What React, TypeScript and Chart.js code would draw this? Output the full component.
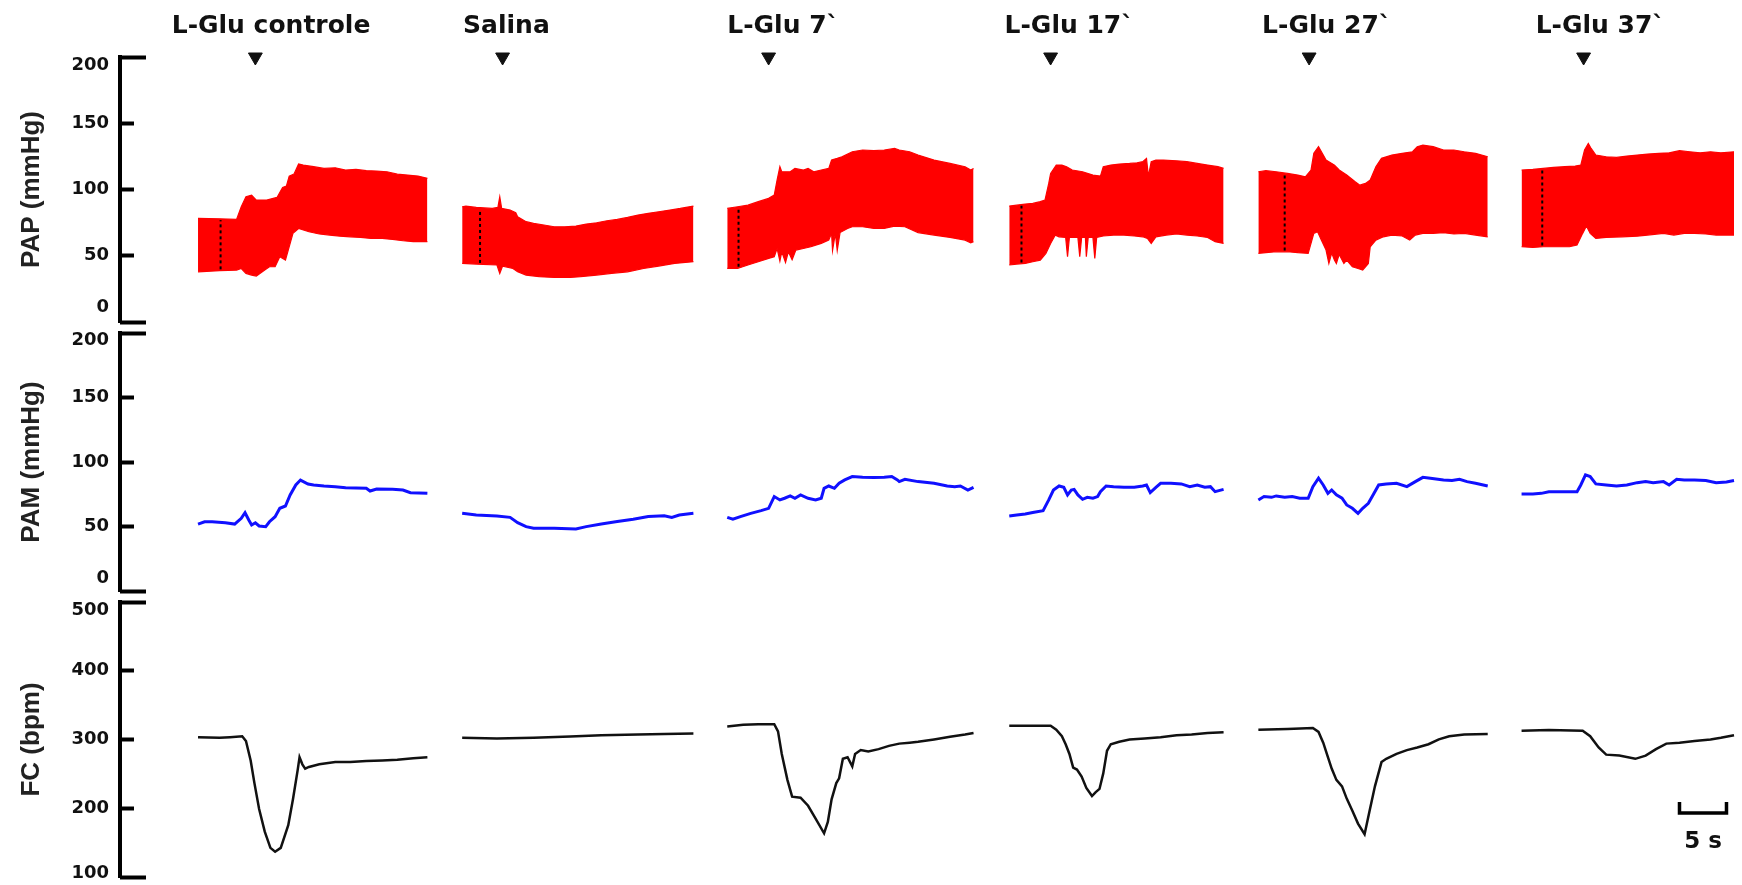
import { useEffect, useRef } from 'react';
import { Chart, registerables } from 'chart.js';

Chart.register(...registerables);

type Pt = [number, number]; // [seconds from segment start, value]

// ---- Recording segments -------------------------------------------------
const SEGMENTS = ['L-Glu controle', 'Salina', 'L-Glu 7`', 'L-Glu 17`', 'L-Glu 27`', 'L-Glu 37`'];
// start of each excerpt on the shared time axis (s)
const SEGMENT_START = [8.3, 36.4, 64.6, 94.6, 121.1, 149.1];
// microinjection time, seconds after the excerpt start
const INJECTION_AT = [6.1, 4.3, 4.4, 4.4, 5.4, 6.6];
// dotted calibration mark inside each pressure excerpt, seconds after start
const MARK_AT = [2.4, 1.9, 1.2, 1.3, 2.8, 2.2];

// ---- PAP: systolic (upper) and diastolic (lower) envelopes, mmHg --------
const PAP_SYS: Pt[][] = [
  [[0, 78.2], [2.3, 77.9], [4.1, 77.4], [4.6, 87], [5.1, 94.5], [5.7, 95.8], [6.2, 92], [7.3, 92], [8.4, 94], [9, 101.6], [9.4, 102.6], [9.7, 110.1], [10.2, 111.6], [10.7, 119.2], [11.2, 118.4], [12.3, 117.2], [13.4, 115.9], [14.6, 116.4], [15.7, 114.7], [16.8, 115.2], [17.9, 114.2], [19, 113.9], [20.1, 113.4], [21.2, 111.6], [22.3, 110.9], [23.4, 110.1], [24.4, 108.4]],
  [[0, 87], [0.4, 87.5], [1.5, 86.5], [3.2, 85.7], [3.8, 86.5], [4.0, 94.5], [4.2, 85.7], [5.1, 84.5], [5.7, 82.5], [5.9, 79.4], [6.8, 75.7], [7.6, 74.4], [8.7, 73.2], [9.8, 71.9], [10.9, 71.9], [12.1, 72.4], [13.2, 73.9], [14.3, 74.9], [15.4, 76.4], [16.5, 77.4], [17.6, 78.9], [18.7, 80.7], [19.8, 82], [20.9, 83.2], [22.1, 84.5], [23.2, 85.7], [24.6, 87.5]],
  [[0, 85.7], [1.1, 87], [2.2, 88.2], [3.3, 90.8], [4.4, 93.3], [5, 95.8], [5.3, 107.1], [5.6, 117.2], [5.8, 113.4], [6.7, 113.4], [7.2, 115.9], [8.1, 114.7], [8.6, 115.9], [9.2, 113.4], [10, 114.7], [10.8, 115.9], [11.1, 122.2], [11.7, 123.5], [12.2, 124.7], [13.3, 128.5], [14.4, 129.8], [15.6, 129.3], [16.7, 129.8], [17.8, 131], [18.3, 129.8], [19.4, 128.5], [20.3, 126], [22, 122.2], [23.7, 119.7], [25.3, 117.2], [25.9, 114.7], [26.2, 115.9]],
  [[0, 87.5], [0.8, 88.2], [1.7, 89], [2.5, 89.5], [3.3, 90.8], [3.8, 92], [4.2, 104.6], [4.4, 112.1], [5, 118.4], [5.6, 118.4], [6.1, 117.2], [6.7, 114.7], [7.8, 113.4], [8.9, 110.9], [9.7, 110.1], [10, 117.2], [10.8, 118.4], [11.7, 119.2], [12.8, 119.7], [13.6, 120.2], [14.2, 121], [14.6, 123.5], [14.8, 110], [15.1, 121], [15.6, 122.2], [16.4, 122.2], [17.8, 121.7], [18.9, 121], [20, 119.7], [21.1, 118.4], [22.2, 117.2], [22.8, 115.9]],
  [[0, 113.4], [0.8, 114.2], [1.9, 113.4], [3.1, 112.1], [4.2, 110.9], [5, 109.6], [5.6, 114.7], [5.9, 127.3], [6.4, 132.3], [6.8, 127.3], [7.2, 122.2], [8.1, 118.4], [8.6, 114.7], [9.4, 110.9], [10.3, 105.9], [10.8, 103.3], [11.4, 104.6], [11.9, 107.1], [12.5, 117.2], [13.1, 123.5], [14.2, 126], [15.3, 127.3], [16.4, 128.5], [16.9, 132.3], [17.5, 133.5], [18.6, 132.3], [19.7, 129.8], [20.8, 129.8], [21.9, 128.5], [23.1, 127.3], [24.4, 124.7]],
  [[0, 114.7], [1.2, 115.2], [2.3, 115.9], [3.4, 116.7], [4.6, 117.2], [5.7, 117.7], [6.3, 118.4], [6.7, 129.8], [7.1, 134.8], [7.4, 131], [7.9, 126], [9, 124.7], [10.1, 124.2], [11.2, 125.2], [12.3, 126], [13.4, 126.7], [14.6, 127.3], [15.7, 127.7], [16.8, 129.3], [17.9, 128.5], [19, 127.7], [20.1, 128.5], [21.2, 127.7], [22.6, 128.5]],
];

const PAP_DIA: Pt[][] = [
  [[0, 37.9], [2.3, 38.7], [4.1, 39.2], [4.6, 40.4], [5.1, 36.7], [5.7, 35.4], [6.2, 34.7], [7.1, 39.2], [7.6, 41.7], [8.2, 41.7], [8.7, 49.2], [9.3, 46.7], [9.6, 54.3], [10.1, 66.9], [10.7, 70.6], [11.8, 68.1], [12.9, 66.4], [14, 65.6], [15.1, 64.8], [16.2, 64.3], [17.3, 63.8], [18.4, 63.1], [19.6, 63.1], [20.7, 62.3], [21.8, 61.3], [22.9, 60.6], [24.4, 60.6]],
  [[0, 44.2], [1.5, 43.7], [3.7, 43], [4.0, 36.7], [4.3, 42.2], [5.4, 40.4], [5.9, 37.9], [6.8, 35.4], [8.2, 34.2], [9.8, 33.6], [11.5, 33.6], [12.6, 34.2], [14.3, 35.4], [15.9, 36.7], [17.6, 37.9], [19.3, 40.4], [20.9, 42.2], [22.6, 44.2], [24.6, 45.5]],
  [[0, 40.4], [1.1, 40.4], [2.2, 43], [3.3, 45.5], [4.4, 48], [5, 49.2], [5.3, 55.5], [5.6, 46], [5.8, 53], [6.2, 45], [6.5, 53], [6.9, 47], [7.3, 54.3], [8.1, 55.5], [8.9, 56.8], [10, 59.3], [10.8, 61.8], [11.1, 66.9], [11.2, 54], [11.5, 66.9], [11.7, 54], [12, 67.5], [12.8, 70.6], [13.3, 71.9], [14.4, 71.9], [15.6, 70.6], [16.7, 70.6], [17.8, 72.4], [18.9, 71.9], [20.3, 67.5], [22, 65.6], [23.7, 63.8], [25.3, 61.8], [25.9, 59.8], [26.2, 60.6]],
  [[0, 43], [0.8, 43.7], [1.7, 44.2], [2.5, 45.5], [3.3, 46.7], [3.9, 51.8], [4.4, 59.3], [4.9, 65.6], [5.3, 64.3], [6, 63.8], [6.2, 49.2], [6.4, 63.8], [7.3, 63.8], [7.5, 49.2], [7.7, 63.8], [8.1, 63.8], [8.2, 49.2], [8.4, 63.8], [8.9, 63.8], [9.1, 48], [9.3, 63.8], [10, 64.9], [11.1, 65.6], [12.2, 65.6], [13.3, 64.9], [14.2, 64.3], [14.7, 63.1], [15.1, 59.3], [15.6, 64.3], [16.7, 65.6], [17.8, 66.4], [18.9, 65.6], [20, 64.9], [21.1, 63.8], [21.9, 60.6], [22.8, 59.3]],
  [[0, 51.8], [0.8, 52.3], [1.9, 53], [3.1, 53], [4.2, 52.3], [5.3, 51.8], [5.9, 66.9], [6.3, 68.1], [6.7, 61.8], [7.2, 54.3], [7.5, 44.2], [7.8, 52], [8.1, 46.7], [8.3, 44.2], [8.6, 51], [9.1, 44.2], [9.4, 46.7], [10, 41.7], [10.6, 40.4], [11.1, 39.2], [11.4, 41.7], [11.7, 44.2], [11.9, 56.8], [12.5, 61.8], [13.3, 64.3], [14.2, 65.6], [15.3, 64.9], [16.1, 61.8], [16.7, 65.6], [17.5, 66.9], [18.6, 66.9], [19.7, 67.4], [20.8, 66.4], [21.9, 66.9], [23.1, 65.6], [24.4, 64.3]],
  [[0, 56.8], [1.2, 56.3], [2.3, 56.8], [3.4, 56.8], [5.1, 56.8], [5.9, 58.1], [6.5, 66.9], [6.9, 72.4], [7.3, 66.9], [7.9, 63.1], [9, 63.8], [10.7, 64.3], [12.3, 64.8], [13.4, 65.6], [15.1, 66.9], [16.2, 65.6], [17.3, 66.9], [18.4, 66.9], [19.6, 66.4], [20.7, 65.6], [22.6, 65.6]],
];

// ---- PAM: mean arterial pressure, mmHg ------------------------------------
const PAM: Pt[][] = [
  [[0, 51.9], [0.7, 53.7], [1.5, 53.7], [2.9, 52.9], [3.9, 51.9], [4.6, 56.3], [5, 60.7], [5.4, 55], [5.7, 51.2], [6.1, 52.9], [6.5, 50.4], [7.2, 49.9], [7.6, 53.7], [8.2, 57.6], [8.7, 64.1], [9.3, 65.9], [9.8, 74.4], [10.4, 82.2], [10.9, 86], [11.7, 82.9], [12.3, 82.2], [13.4, 81.4], [14.6, 80.9], [15.7, 80.1], [16.8, 79.8], [17.9, 79.6], [18.3, 77.5], [19, 79.1], [20.7, 78.8], [21.8, 78.3], [22.6, 76.2], [24.4, 75.7]],
  [[0, 60.2], [1.5, 58.9], [3.7, 58.2], [5.1, 57.1], [5.9, 53], [6.8, 49.9], [7.6, 48.6], [9.8, 48.6], [12.1, 48.1], [13.2, 49.9], [14.8, 52], [16.5, 53.8], [18.2, 55.6], [19.8, 57.7], [21.5, 58.4], [22.3, 57.1], [23.1, 58.9], [24.6, 60.2]],
  [[0, 57.1], [0.6, 55.6], [1.4, 57.7], [2.5, 60.2], [3.6, 62.3], [4.4, 64.1], [5, 73.2], [5.6, 70.6], [6.1, 71.9], [6.7, 73.7], [7.2, 71.9], [7.8, 74.5], [8.6, 71.9], [9.4, 70.6], [10, 71.9], [10.3, 79.6], [10.8, 81.4], [11.4, 79.6], [11.9, 83.5], [12.5, 86.1], [13.3, 88.7], [14.4, 88.2], [15.6, 87.9], [16.7, 88.2], [17.5, 88.7], [18.1, 86.1], [18.3, 84.8], [18.9, 86.6], [20.3, 84.8], [22, 83.5], [23.4, 81.4], [24.2, 80.9], [24.8, 81.4], [25.6, 78.3], [26.2, 80.4]],
  [[0, 58.2], [0.8, 58.9], [1.7, 59.7], [2.5, 60.8], [3.6, 62.3], [4.2, 70.6], [4.7, 78.3], [5.3, 81.4], [5.8, 80.4], [6.2, 74.5], [6.6, 78.3], [6.9, 78.8], [7.3, 74.5], [7.8, 71.1], [8.3, 72.6], [8.9, 71.9], [9.4, 73.2], [9.7, 77], [10.3, 81.4], [11.1, 80.9], [12.2, 80.4], [13.3, 80.4], [14.2, 81.4], [14.6, 82.2], [15, 76.3], [15.6, 80.4], [16.1, 83.5], [17.2, 83.5], [18.3, 83], [19.2, 80.9], [20, 82.2], [20.8, 80.4], [21.4, 80.9], [21.9, 77], [22.8, 78.8]],
  [[0, 70.6], [0.6, 73.2], [1.4, 72.6], [1.9, 73.7], [2.8, 72.6], [3.6, 73.2], [4.4, 71.9], [5.3, 71.9], [5.8, 80.9], [6.4, 87.4], [6.9, 82.2], [7.4, 75.7], [7.8, 78.3], [8.3, 74.5], [8.9, 71.9], [9.4, 66.7], [10, 64.1], [10.6, 60.2], [11.1, 64.1], [11.7, 68], [12.2, 74.5], [12.8, 82.2], [13.6, 83], [14.7, 83.5], [15.8, 80.9], [16.7, 84.8], [17.5, 88.1], [18.3, 87.4], [19.7, 86.1], [20.6, 85.6], [21.4, 86.6], [22.2, 84.8], [23.1, 83.5], [24.4, 81.4]],
  [[0, 75.2], [1.2, 75.2], [2.1, 75.7], [2.9, 77], [4.6, 77], [5.9, 77], [6.3, 82.2], [6.8, 90], [7.3, 88.7], [7.9, 83], [9, 82.2], [10.1, 81.4], [11.2, 82.2], [12.3, 84], [13.2, 84.8], [14, 84], [15.1, 84.8], [15.7, 82.2], [16.5, 86.6], [17.3, 86.1], [18.4, 86.1], [19.6, 85.6], [20.7, 84], [21.8, 84.5], [22.6, 85.6]],
];

// ---- FC: heart rate, bpm ---------------------------------------------------
const FC: Pt[][] = [
  [[0, 303.4], [2.3, 302.5], [3.4, 303.4], [4.7, 304.8], [5.1, 297.8], [5.6, 269.5], [6, 236.6], [6.5, 198.9], [7.1, 166], [7.7, 142.4], [8.2, 136.8], [8.8, 142.4], [9.6, 175.4], [10.1, 213], [10.6, 255.4], [10.8, 274.2], [11.1, 263.9], [11.4, 257.7], [11.8, 260.1], [12.9, 263.9], [14.6, 267.2], [16.2, 267.2], [17.9, 268.6], [19.6, 269.5], [21.2, 270.5], [22.9, 272.8], [24.4, 274.2]],
  [[0, 302.5], [3.7, 301.5], [7.6, 302.5], [11.5, 304.4], [14.8, 306.3], [18.7, 307.2], [21.5, 308.1], [24.6, 308.6]],
  [[0, 319], [1.7, 321.3], [3.3, 322.3], [5, 322.3], [5.4, 311.9], [5.8, 279], [6.4, 241.3], [6.9, 216.8], [7.8, 215.4], [8.6, 203.6], [9.4, 184.8], [10.3, 163.6], [10.7, 180.1], [11.1, 213], [11.6, 236.6], [11.9, 243.6], [12.3, 271.9], [12.8, 274.2], [13.3, 261], [13.6, 279], [14.2, 284.6], [15, 282.7], [16.1, 286], [17.2, 290.7], [18.3, 294], [19.4, 295.4], [20.3, 296.8], [22, 300.1], [23.7, 303.9], [25.3, 307.2], [26.2, 309.5]],
  [[0, 319.9], [1.7, 319.9], [4.4, 319.9], [5, 314.2], [5.6, 304.8], [6, 293.1], [6.4, 279], [6.8, 259.2], [7.2, 256.3], [7.7, 246], [8.2, 229.5], [8.8, 217.7], [9.2, 223.4], [9.6, 228.1], [10, 250.7], [10.4, 283.6], [10.8, 293.1], [11.7, 296.8], [12.8, 300.1], [14.4, 301.5], [16.1, 303.4], [17.8, 306.3], [19.4, 307.2], [21.1, 309.5], [22.8, 310.5]],
  [[0, 314.2], [3.1, 315.2], [5.8, 316.6], [6.4, 311], [6.9, 295.4], [7.4, 274.2], [7.8, 257.7], [8.3, 241.3], [8.9, 231.9], [9.4, 214], [10, 196.5], [10.6, 177.7], [11.3, 162.2], [11.8, 194.2], [12.4, 231.9], [13.1, 267.2], [13.6, 271.9], [14.7, 279], [15.8, 284.6], [16.9, 288.4], [18.1, 293.1], [19.2, 300.1], [20.3, 304.8], [21.9, 307.2], [24.4, 308.1]],
  [[0, 312.8], [2.9, 313.8], [6.5, 312.8], [7.3, 304.8], [8.2, 288.4], [9, 278], [10.4, 276.6], [12.1, 271.9], [13.2, 276.6], [14.3, 286], [15.4, 294], [16.8, 295.4], [18.4, 297.8], [20.1, 300.1], [21.2, 302.5], [22.6, 306.3]],
];

// ---- Axis ticks -------------------------------------------------------------
const PAP_TICKS = [0, 50, 100, 150, 200];
const PAM_TICKS = [0, 50, 100, 150, 200];
const FC_TICKS = [100, 200, 300, 400, 500];

// time calibration bar
const SCALE_BAR_SECONDS = 5;
const SCALE_BAR_LABEL = '5 s';

// ---- Layout (pixels / seconds) ---------------------------------------------
const WIDTH = 1742;
const AXIS_LEFT = 120;            // x of the vertical axis lines
const X_MAX = 172.55;             // seconds spanned from the axis to the right edge
const HEADER_OFFSET = [-2.8, 0.1, 0, -0.5, 0.4, 1.5]; // header left edge vs. segment start (s)
const SCALE_BAR_AT = 165.9;       // s
const SCALE_BAR_LOW = 193;        // bpm level of the bar
const SCALE_BAR_HIGH = 209;       // bpm level of the end ticks
const SCALE_LABEL_LEVEL = 151;    // bpm level of the "5 s" text
// end labels sit slightly inside the axis caps: [top, bottom] shift in axis units
const PAP_END_SHIFT = [6, 11];
const PAM_END_SHIFT = [5.5, 10];
const FC_END_SHIFT = [12, 6];

const RED = '#ff0000';
const BLUE = '#1010ff';
const INK = '#111111';

const toXY = (seg: Pt[], i: number) => seg.map(([t, v]) => ({ x: SEGMENT_START[i] + t, y: v }));

function valueAt(seg: Pt[], t: number): number {
  for (let k = 0; k < seg.length - 1; k++) {
    const [t0, v0] = seg[k];
    const [t1, v1] = seg[k + 1];
    if (t >= t0 && t <= t1) return v0 + ((v1 - v0) * (t - t0)) / (t1 - t0 || 1);
  }
  return seg[seg.length - 1][1];
}

function scalesFor(min: number, max: number, ticks: number[], title: string, endShift: number[]) {
  const last = ticks.length - 1;
  return {
    x: { type: 'linear', min: 0, max: X_MAX, display: false },
    y: {
      type: 'linear',
      position: 'left',
      min,
      max,
      weight: 1,
      afterBuildTicks: (s: any) => {
        s.ticks = ticks.map((v, i) => ({
          value: i === 0 ? v + endShift[1] : i === last ? v - endShift[0] : v,
        }));
      },
      afterFit: (s: any) => {
        s.width = AXIS_LEFT;
        s.paddingTop = 0;
        s.paddingBottom = 0;
      },
      border: { display: true, width: 4, color: '#000' },
      grid: {
        drawOnChartArea: false,
        drawTicks: true,
        tickLength: -14,
        tickWidth: 4,
        // the end values are marked by the caps below
        tickColor: (ctx: any) => (ctx.index === 0 || ctx.index === last ? 'rgba(0,0,0,0)' : '#000'),
      },
      ticks: {
        padding: 25,
        color: INK,
        font: { family: 'DejaVu Sans', size: 18, weight: 'bold' },
        callback: (_v: any, i: number) => String(ticks[i]),
      },
      title: {
        display: true,
        text: title,
        color: '#222',
        padding: { top: 16, bottom: 0 },
        font: { family: 'Liberation Sans', size: 26, weight: 'bold' },
      },
    },
    // end caps of the axis (longer ticks at both ends)
    cap: {
      type: 'linear',
      position: 'left',
      min,
      max,
      weight: 0,
      afterBuildTicks: (s: any) => {
        s.ticks = [{ value: min }, { value: max }];
      },
      afterFit: (s: any) => {
        s.width = 0;
        s.paddingTop = 0;
        s.paddingBottom = 0;
      },
      border: { display: false },
      grid: { drawOnChartArea: false, drawTicks: true, tickLength: -26, tickWidth: 4, tickColor: '#000' },
      ticks: { display: false },
    },
  };
}

const baseOptions = (padTop: number, padBottom: number) => ({
  animation: false,
  responsive: false,
  maintainAspectRatio: false,
  devicePixelRatio: 1,
  layout: { autoPadding: false, padding: { top: padTop, bottom: padBottom, left: 0, right: 0 } },
  plugins: { legend: { display: false }, tooltip: { enabled: false } },
  elements: { point: { radius: 0, hoverRadius: 0 }, line: { tension: 0 } },
});

const traceStyle = (color: string, width: number) => ({
  borderColor: color,
  borderWidth: width,
  pointRadius: 0,
  pointHoverRadius: 0,
  fill: false,
  yAxisID: 'y',
  xAxisID: 'x',
});

function papConfig(): any {
  const datasets: any[] = [];
  SEGMENTS.forEach((_, i) => {
    datasets.push({ ...traceStyle(RED, 1.2), data: toXY(PAP_DIA[i], i) });
    datasets.push({ ...traceStyle(RED, 1.2), data: toXY(PAP_SYS[i], i), fill: '-1', backgroundColor: RED });
  });
  // dotted calibration marks, drawn over the red band
  SEGMENTS.forEach((_, i) => {
    const t = MARK_AT[i];
    datasets.push({
      ...traceStyle('#000', 2),
      order: -1,
      borderDash: [3, 3],
      data: [
        { x: SEGMENT_START[i] + t, y: valueAt(PAP_DIA[i], t) + 1 },
        { x: SEGMENT_START[i] + t, y: valueAt(PAP_SYS[i], t) - 1 },
      ],
    });
  });
  // injection arrowheads
  datasets.push({
    yAxisID: 'y',
    xAxisID: 'x',
    order: -1,
    showLine: false,
    clip: false,
    pointStyle: 'triangle',
    rotation: 180,
    pointRadius: 8,
    pointHoverRadius: 8,
    backgroundColor: INK,
    borderColor: INK,
    borderWidth: 1,
    data: SEGMENTS.map((_, i) => ({ x: SEGMENT_START[i] + INJECTION_AT[i], y: 200 })),
  });

  const headers = {
    id: 'segmentHeaders',
    afterDraw(chart: any) {
      const { ctx, chartArea, scales } = chart;
      ctx.save();
      ctx.font = 'bold 25px "DejaVu Sans"';
      ctx.fillStyle = INK;
      ctx.textAlign = 'left';
      ctx.textBaseline = 'middle';
      SEGMENTS.forEach((name, i) => {
        ctx.fillText(name, scales.x.getPixelForValue(SEGMENT_START[i] + HEADER_OFFSET[i]), chartArea.top - 31);
      });
      ctx.restore();
    },
  };

  return {
    type: 'line',
    data: { datasets },
    options: { ...baseOptions(57, 12), scales: scalesFor(0, 200, PAP_TICKS, 'PAP (mmHg)', PAP_END_SHIFT) },
    plugins: [headers],
  };
}

function pamConfig(): any {
  const datasets = SEGMENTS.map((_, i) => ({ ...traceStyle(BLUE, 3), data: toXY(PAM[i], i) }));
  return {
    type: 'line',
    data: { datasets },
    options: { ...baseOptions(13, 11), scales: scalesFor(0, 200, PAM_TICKS, 'PAM (mmHg)', PAM_END_SHIFT) },
  };
}

function fcConfig(): any {
  const datasets: any[] = SEGMENTS.map((_, i) => ({ ...traceStyle(INK, 2.5), data: toXY(FC[i], i) }));
  datasets.push({
    ...traceStyle('#000', 3.5),
    clip: false,
    data: [
      { x: SCALE_BAR_AT, y: SCALE_BAR_HIGH },
      { x: SCALE_BAR_AT, y: SCALE_BAR_LOW },
      { x: SCALE_BAR_AT + SCALE_BAR_SECONDS, y: SCALE_BAR_LOW },
      { x: SCALE_BAR_AT + SCALE_BAR_SECONDS, y: SCALE_BAR_HIGH },
    ],
  });
  const barLabel = {
    id: 'scaleBarLabel',
    afterDraw(chart: any) {
      const { ctx, scales } = chart;
      ctx.save();
      ctx.font = 'bold 23px "DejaVu Sans"';
      ctx.fillStyle = INK;
      ctx.textAlign = 'center';
      ctx.textBaseline = 'middle';
      ctx.fillText(
        SCALE_BAR_LABEL,
        scales.x.getPixelForValue(SCALE_BAR_AT + SCALE_BAR_SECONDS / 2),
        scales.y.getPixelForValue(SCALE_LABEL_LEVEL),
      );
      ctx.restore();
    },
  };
  return {
    type: 'line',
    data: { datasets },
    options: { ...baseOptions(12, 8), scales: scalesFor(100, 500, FC_TICKS, 'FC (bpm)', FC_END_SHIFT) },
    plugins: [barLabel],
  };
}

export default function App() {
  const papRef = useRef<HTMLCanvasElement>(null);
  const pamRef = useRef<HTMLCanvasElement>(null);
  const fcRef = useRef<HTMLCanvasElement>(null);

  useEffect(() => {
    const charts = [
      new Chart(papRef.current as HTMLCanvasElement, papConfig()),
      new Chart(pamRef.current as HTMLCanvasElement, pamConfig()),
      new Chart(fcRef.current as HTMLCanvasElement, fcConfig()),
    ];
    return () => charts.forEach((c) => c.destroy());
  }, []);

  const canvasStyle = (top: number, height: number): any => ({
    position: 'absolute',
    left: 0,
    top,
    width: WIDTH,
    height,
  });

  return (
    <div style={{ position: 'absolute', left: 0, top: 0, width: WIDTH, height: 885, background: '#fff', overflow: 'hidden' }}>
      <canvas ref={papRef} width={WIDTH} height={334} style={canvasStyle(0, 334)} />
      <canvas ref={pamRef} width={WIDTH} height={282} style={canvasStyle(320, 282)} />
      <canvas ref={fcRef} width={WIDTH} height={295} style={canvasStyle(590, 295)} />
    </div>
  );
}
